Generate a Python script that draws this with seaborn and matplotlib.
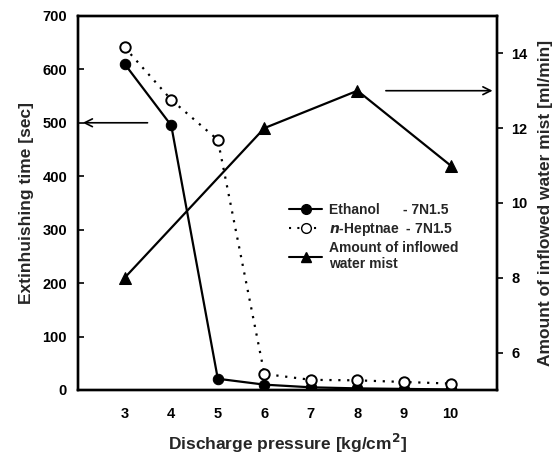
import matplotlib
matplotlib.use("Agg")
import matplotlib.pyplot as plt
import seaborn as sns
import pandas as pd
from matplotlib.lines import Line2D

# Discharge pressure [kg/cm^2]
pressure = [3, 4, 5, 6, 7, 8, 9, 10]
# Extinguishing time [sec]
ethanol_time = [610, 495, 21, 10, 5, 3, 2, 1]
heptane_time = [641, 543, 468, 30, 19, 18, 15, 12]
# Amount of inflowed water mist [ml/min]
mist_pressure = [3, 6, 8, 10]
mist_amount = [8, 12, 13, 11]

sns.set_theme(style="white")
plt.rcParams["font.family"] = ["Liberation Sans", "DejaVu Sans"]
plt.rcParams["font.weight"] = "bold"

df_eth = pd.DataFrame({"p": pressure, "t": ethanol_time})
df_hep = pd.DataFrame({"p": pressure, "t": heptane_time})
df_mist = pd.DataFrame({"p": mist_pressure, "m": mist_amount})

fig = plt.figure(figsize=(5.58, 4.54), dpi=100)
ax = fig.add_axes([0.14, 0.141, 0.751, 0.824])

sns.lineplot(data=df_eth, x="p", y="t", ax=ax, color="black", lw=1.6,
             marker="o", markersize=7.5, markerfacecolor="black",
             markeredgecolor="black")
sns.lineplot(data=df_hep, x="p", y="t", ax=ax, color="black", lw=1.6,
             linestyle=(0, (1, 3)), marker="o", markersize=7.5,
             markerfacecolor="white", markeredgecolor="black",
             markeredgewidth=1.4)

ax.set_xlim(2, 11)
ax.set_ylim(0, 700)
ax.set_xticks(pressure)
ax.set_yticks(range(0, 701, 100))
ax.set_xlabel("Discharge pressure [kg/cm$^\\mathbf{2}$]", fontsize=12.5,
              fontweight="bold", labelpad=8)
ax.set_ylabel("Extinhuishing time [sec]", fontsize=12.5, fontweight="bold",
              labelpad=6)

ax2 = ax.twinx()
sns.lineplot(data=df_mist, x="p", y="m", ax=ax2, color="black", lw=1.6,
             marker="^", markersize=8, markerfacecolor="black",
             markeredgecolor="black")
ax2.set_ylim(5, 15)
ax2.set_yticks([6, 8, 10, 12, 14])
ax2.set_ylabel("Amount of inflowed water mist [ml/min]", fontsize=12.5,
               fontweight="bold", labelpad=8)
ax2.set_xlabel("")

for a in (ax, ax2):
    for s in a.spines.values():
        s.set_color("black")
        s.set_linewidth(1.7)
    a.tick_params(axis="both", labelsize=10.5, colors="black", width=1.2,
                  length=4, direction="in")
    for lab in a.get_xticklabels() + a.get_yticklabels():
        lab.set_fontweight("bold")
ax.tick_params(axis="x", pad=12)
ax.tick_params(axis="y", pad=8)
ax2.tick_params(axis="y", direction="out", pad=6)

# Arrows pointing each curve to its axis
ax.annotate("", xy=(2.04, 500), xytext=(3.55, 500),
            arrowprops=dict(arrowstyle="->", color="black", lw=1.2,
                            mutation_scale=14))
ax2.annotate("", xy=(10.96, 13), xytext=(8.55, 13),
             arrowprops=dict(arrowstyle="->", color="black", lw=1.2,
                             mutation_scale=14))

handles = [
    Line2D([], [], color="black", lw=1.5, marker="o", markersize=7,
           markerfacecolor="black"),
    Line2D([], [], color="black", lw=1.5, linestyle=(0, (1, 3)), marker="o",
           markersize=7, markerfacecolor="white", markeredgecolor="black"),
    Line2D([], [], color="black", lw=1.5, marker="^", markersize=7,
           markerfacecolor="black"),
]
labels = [
    "Ethanol      - 7N1.5",
    "$\\mathbf{\\mathit{n}}$-Heptnae  - 7N1.5",
    "Amount of inflowed\nwater mist",
]
leg = ax.legend(handles, labels, loc="upper left",
                bbox_to_anchor=(0.48, 0.525), frameon=False, fontsize=10,
                handlelength=2.4, handletextpad=0.5, labelspacing=0.25,
                borderpad=0.2)
for t in leg.get_texts():
    t.set_fontweight("bold")

fig.savefig("out.png", dpi=100)
